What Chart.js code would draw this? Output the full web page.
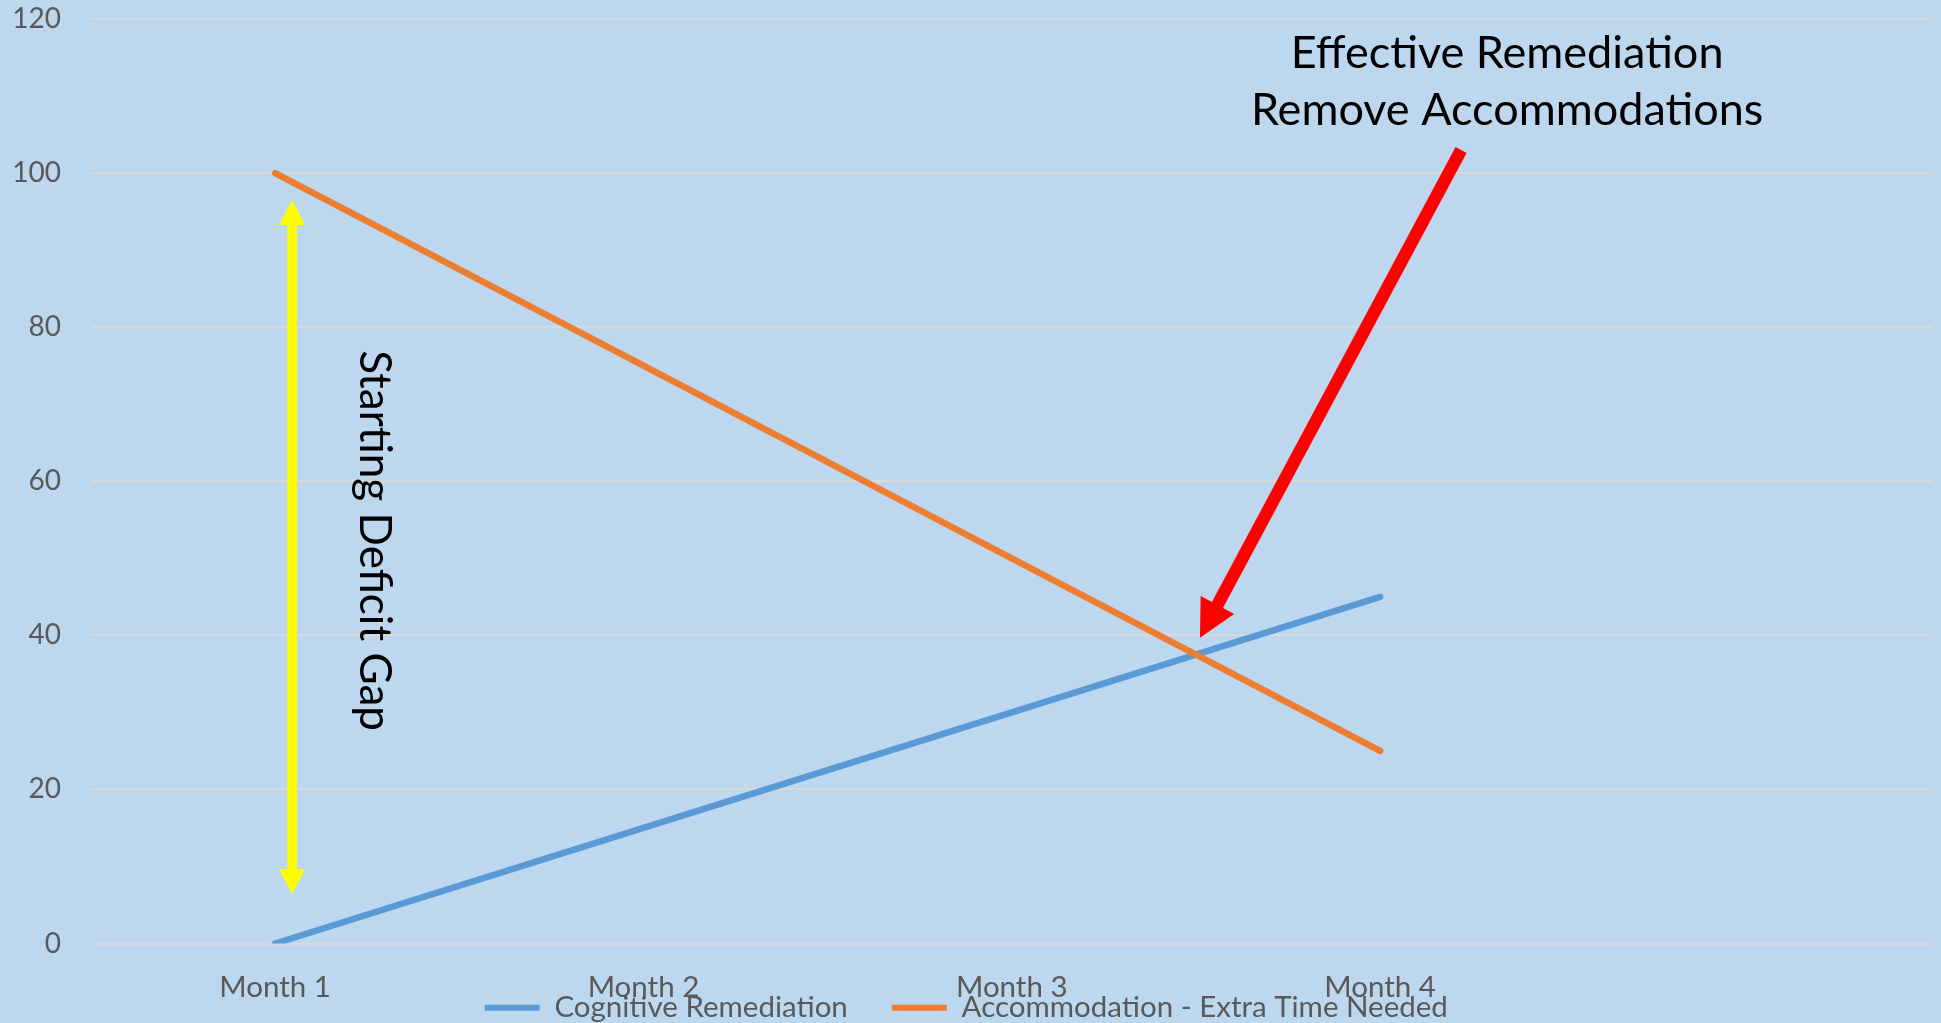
<!DOCTYPE html>
<html>
<head>
<meta charset="utf-8">
<script src="https://cdn.jsdelivr.net/npm/chart.js@4/dist/chart.umd.min.js"></script>
<style>
html, body { margin: 0; padding: 0; background: #BDD7EE; }
#wrap { width: 1941px; height: 1023px; }
</style>
</head>
<body>
<div id="wrap"><canvas id="c" width="1941" height="1023"></canvas></div>
<script>
// ---- data ----
const categories = ['Month 1', 'Month 2', 'Month 3', 'Month 4', ''];
const cognitiveRemediation = [0, 15, 30, 45, null];
const accommodationExtraTime = [100, 75, 50, 25, null];
const seriesNames = ['Cognitive Remediation', 'Accommodation - Extra Time Needed'];
const yMin = 0, yMax = 120, yStep = 20;

// ---- annotation texts ----
const gapLabelText = 'Starting Deficit Gap';
const calloutLines = ['Effective Remediation', 'Remove Accommodations'];

// annotation anchors, in data coordinates (category index, value)
const gapArrowAnchor = { x: 0.046, yFrom: 6.4, yTo: 96.5 };
const gapLabelAnchor = { x: 0.231, y: 52.3 };
const calloutArrowAnchor = { x1: 3.22, y1: 103, x2: 2.511, y2: 39.7 };
const calloutTextAnchor = { x: 3.345, y: [113.6, 106.2] };

const FONT = 'Lato';
const TICK_COLOR = '#595959';

const bgPlugin = {
  id: 'bg',
  beforeDraw(chart) {
    const c = chart.ctx;
    c.save();
    c.fillStyle = '#BDD7EE';
    c.fillRect(0, 0, chart.width, chart.height);
    c.restore();
  }
};

// let the category labels spill below their (thin) axis box
const labelAreaPlugin = {
  id: 'labelArea',
  afterLayout(chart) {
    const s = chart.scales.x;
    s.bottom = chart.height;
  }
};

function arrowHead(c, tx, ty, ux, uy, len, wid) {
  const bx = tx - ux * len, by = ty - uy * len;
  const px = -uy, py = ux;
  c.beginPath();
  c.moveTo(tx, ty);
  c.lineTo(bx + px * wid / 2, by + py * wid / 2);
  c.lineTo(bx - px * wid / 2, by - py * wid / 2);
  c.closePath();
  c.fill();
}

function shaft(c, x1, y1, x2, y2, w) {
  c.beginPath();
  c.lineWidth = w;
  c.lineCap = 'butt';
  c.moveTo(x1, y1);
  c.lineTo(x2, y2);
  c.stroke();
}

const annotationPlugin = {
  id: 'annotations',
  afterDatasetsDraw(chart) {
    const c = chart.ctx;
    const xs = chart.scales.x, ys = chart.scales.y;
    c.save();

    // yellow double-headed arrow
    {
      const x = xs.getPixelForValue(gapArrowAnchor.x);
      const yTop = ys.getPixelForValue(gapArrowAnchor.yTo);
      const yBot = ys.getPixelForValue(gapArrowAnchor.yFrom);
      const hl = 25, hw = 26;
      c.fillStyle = '#FFFF00';
      c.strokeStyle = '#FFFF00';
      shaft(c, x, yTop + hl - 1, x, yBot - hl + 1, 9.5);
      arrowHead(c, x, yTop, 0, -1, hl, hw);
      arrowHead(c, x, yBot, 0, 1, hl, hw);
    }

    // rotated label
    {
      const x = xs.getPixelForValue(gapLabelAnchor.x);
      const y = ys.getPixelForValue(gapLabelAnchor.y);
      c.save();
      c.translate(x, y);
      c.rotate(Math.PI / 2);
      c.fillStyle = '#000000';
      c.font = '44px ' + FONT;
      c.textAlign = 'center';
      c.textBaseline = 'alphabetic';
      c.fillText(gapLabelText, 0, 0);
      c.restore();
    }

    // red arrow
    {
      const x1 = xs.getPixelForValue(calloutArrowAnchor.x1);
      const y1 = ys.getPixelForValue(calloutArrowAnchor.y1);
      const x2 = xs.getPixelForValue(calloutArrowAnchor.x2);
      const y2 = ys.getPixelForValue(calloutArrowAnchor.y2);
      const dx = x2 - x1, dy = y2 - y1;
      const L = Math.hypot(dx, dy);
      const ux = dx / L, uy = dy / L;
      const hl = 37, hw = 38;
      c.fillStyle = '#FF0000';
      c.strokeStyle = '#FF0000';
      shaft(c, x1, y1, x2 - ux * (hl - 2), y2 - uy * (hl - 2), 12.5);
      arrowHead(c, x2, y2, ux, uy, hl, hw);
    }

    // callout text
    {
      const x = xs.getPixelForValue(calloutTextAnchor.x);
      c.fillStyle = '#000000';
      c.font = '45px ' + FONT;
      c.textAlign = 'center';
      c.textBaseline = 'alphabetic';
      calloutLines.forEach((t, i) => {
        c.fillText(t, x, ys.getPixelForValue(calloutTextAnchor.y[i]));
      });
    }
    c.restore();
  }
};

const colors = ['#5B9BD5', '#ED7D31'];

new Chart(document.getElementById('c'), {
  type: 'line',
  data: {
    labels: categories,
    datasets: [
      {
        label: seriesNames[0],
        data: cognitiveRemediation,
        borderColor: colors[0],
        backgroundColor: colors[0],
        borderWidth: 6.5,
        pointRadius: 0,
        pointHoverRadius: 0,
        tension: 0,
        fill: false,
        borderCapStyle: 'round',
        borderJoinStyle: 'round',
        order: 2
      },
      {
        label: seriesNames[1],
        data: accommodationExtraTime,
        borderColor: colors[1],
        backgroundColor: colors[1],
        borderWidth: 6.5,
        pointRadius: 0,
        pointHoverRadius: 0,
        tension: 0,
        fill: false,
        borderCapStyle: 'round',
        borderJoinStyle: 'round',
        order: 1
      }
    ]
  },
  options: {
    responsive: false,
    animation: false,
    devicePixelRatio: 1,
    layout: { padding: { top: 19, right: 8.5, left: 0, bottom: 0 } },
    plugins: {
      tooltip: { enabled: false },
      legend: {
        display: true,
        position: 'bottom',
        align: 'center',
        maxHeight: 74,
        labels: {
          boxWidth: 55,
          boxHeight: 6,
          padding: 44,
          color: TICK_COLOR,
          font: { family: FONT, size: 29.5 },
          generateLabels(chart) {
            return chart.data.datasets.map((ds, i) => ({
              text: ds.label,
              fillStyle: ds.borderColor,
              strokeStyle: ds.borderColor,
              lineWidth: 0,
              hidden: false,
              datasetIndex: i,
              fontColor: TICK_COLOR
            }));
          }
        }
      }
    },
    scales: {
      x: {
        offset: true,
        grid: { display: false },
        border: { display: false },
        ticks: {
          color: TICK_COLOR,
          font: { family: FONT, size: 29.5 },
          padding: 18,
          maxRotation: 0,
          autoSkip: false
        },
        afterFit(scale) { scale.height = 5.5; }
      },
      y: {
        min: yMin,
        max: yMax,
        ticks: {
          stepSize: yStep,
          color: TICK_COLOR,
          font: { family: FONT, size: 28 },
          padding: 30
        },
        grid: { color: '#D9D9D9', lineWidth: 2, drawTicks: false },
        border: { display: false },
        afterFit(scale) {
          scale.width = 91;
          scale.paddingTop = 0;
          scale.paddingBottom = 0;
        }
      }
    }
  },
  plugins: [bgPlugin, labelAreaPlugin, annotationPlugin]
});
</script>
</body>
</html>
